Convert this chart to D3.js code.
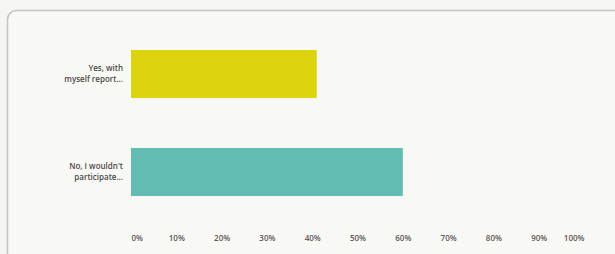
<!DOCTYPE html>
<html>
<head>
<meta charset="utf-8">
<script src="https://cdn.jsdelivr.net/npm/d3@7"></script>
<style>
  body { margin: 0; background: #f5f5f1; }
  svg { display: block; }
  .tick-label { font-family: "Open Sans", sans-serif; font-size: 8px; font-weight: 600; fill: #5e5659; }
  .cat-label { font-family: "Open Sans", sans-serif; font-size: 8px; font-weight: 600; fill: #4f484b; }
</style>
</head>
<body>
<div id="chart"></div>
<script>
// Answers (two-line labels) and percentages
var categories = ["Yes, with|myself report...", "No, I wouldn't|participate..."];
var percents = [41, 60];
var barColors = ["#dbd40f", "#62bcb1"];
var tickValues = [0, 10, 20, 30, 40, 50, 60, 70, 80, 90, 100];

var w = 615, h = 254;

var svg = d3.select("#chart").append("svg")
  .attr("width", w)
  .attr("height", h);

// Card frame
svg.append("rect")
  .attr("x", 7.5)
  .attr("y", 10.5)
  .attr("width", 640)
  .attr("height", 260)
  .attr("rx", 9)
  .attr("fill", "#f8f8f5")
  .attr("stroke", "#c4c4c2")
  .attr("stroke-width", 1.5);

//Scales
var xScale = d3.scaleLinear()
  .domain([0, 100])
  .range([131, 584]);

var yScale = d3.scaleBand()
  .domain(categories)
  .range([25.5, 220.5])
  .paddingInner(0.51)
  .paddingOuter(0.25);

// Bars
svg.selectAll("rect.bar")
  .data(categories)
  .enter()
  .append("rect")
  .attr("class", "bar")
  .attr("x", xScale(0))
  .attr("y", function(d) { return yScale(d); })
  .attr("width", function(d, i) { return xScale(percents[i]) - xScale(0); })
  .attr("height", yScale.bandwidth())
  .attr("fill", function(d, i) { return barColors[i]; });

// Category labels, right aligned, two lines
var labels = svg.selectAll("text.cat-label")
  .data(categories)
  .enter()
  .append("text")
  .attr("class", "cat-label")
  .attr("text-anchor", "end")
  .attr("x", 123)
  .attr("y", function(d) { return yScale(d) + yScale.bandwidth() / 2 - 3; });

labels.selectAll("tspan")
  .data(function(d) { return d.split("|"); })
  .enter()
  .append("tspan")
  .attr("x", 123)
  .attr("dy", function(d, i) { return i === 0 ? 0 : 11; })
  .text(function(d) { return d; });

// X axis labels (no line, no ticks)
var xAxis = d3.axisBottom(xScale)
  .tickValues(tickValues)
  .tickSize(0)
  .tickFormat(function(d) { return d + "%"; });

var axisG = svg.append("g")
  .attr("transform", "translate(0,232)")
  .call(xAxis);

axisG.select(".domain").remove();
axisG.selectAll("text")
  .attr("class", "tick-label")
  .attr("font-family", null)
  .attr("font-size", null)
  .attr("fill", null)
  .attr("text-anchor", function(d) {
    if (d === 0) return "start";
    if (d === 100) return "end";
    return "middle";
  });
</script>
</body>
</html>
